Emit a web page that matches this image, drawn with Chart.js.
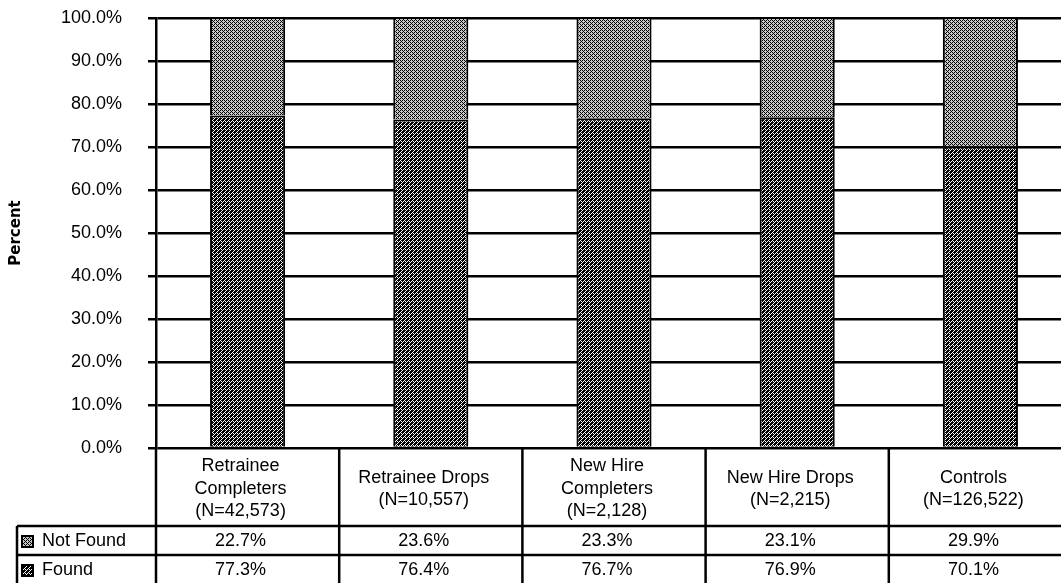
<!DOCTYPE html>
<html>
<head>
<meta charset="utf-8">
<script src="https://cdn.jsdelivr.net/npm/chart.js@4.4.1/dist/chart.umd.min.js"></script>
<style>
  html, body { margin: 0; padding: 0; background: #fff; overflow: hidden; }
  canvas { display: block; }
</style>
</head>
<body>
<canvas id="myChart" width="1080" height="583"></canvas>
<script>
//------------------data---------------------
const categories = [
  ['Retrainee', 'Completers', '(N=42,573)'],
  ['Retrainee Drops', '(N=10,557)'],
  ['New Hire', 'Completers', '(N=2,128)'],
  ['New Hire Drops', '(N=2,215)'],
  ['Controls', '(N=126,522)']
];
const notFoundValues = [22.7, 23.6, 23.3, 23.1, 29.9];
const foundValues = [77.3, 76.4, 76.7, 76.9, 70.1];
const yTicks = [0, 10, 20, 30, 40, 50, 60, 70, 80, 90, 100];
const seriesNames = ['Not Found', 'Found'];

//------------------patterns---------------------
function makePattern(isDark) {
  const tile = document.createElement('canvas');
  tile.width = 4;
  tile.height = 4;
  const tctx = tile.getContext('2d');
  tctx.fillStyle = '#fff';
  tctx.fillRect(0, 0, 4, 4);
  tctx.fillStyle = '#000';
  for (let px = 0; px < 4; px++) {
    for (let py = 0; py < 4; py++) {
      let on;
      const s = (px + py) % 4;
      const d = (px - py + 4) % 4;
      if (isDark) {
        //dark stipple with light "/" specks
        on = !(s === 0 || (px === 1 && py === 1));
      } else {
        //mid grey "\" hatch
        on = d === 0 || (d === 2 && px % 2 === 0);
      }
      if (on) tctx.fillRect(px, py, 1, 1);
    }
  }
  if (!isDark) {
    //soft grey fill between the hatch lines
    const img = tctx.getImageData(0, 0, 4, 4);
    for (let k = 0; k < img.data.length; k += 4) {
      if (img.data[k] === 255) {
        img.data[k] = img.data[k + 1] = img.data[k + 2] = 200;
      }
    }
    tctx.putImageData(img, 0, 0);
  }
  return tctx.createPattern(tile, 'repeat');
}

const patternFound = makePattern(true);
const patternNotFound = makePattern(false);

//------------------table under the plot---------------------
const fontTable = '18px "Liberation Sans", Arial, sans-serif';
const headerHeight = 78;
const rowHeight = 29;
const legendLeft = 17;
const textShift = -7;

const tablePlugin = {
  id: 'dataTable',
  afterDraw(chart) {
    const ctx = chart.ctx;
    const area = chart.chartArea;
    const x = chart.scales.x;
    const half = (x.getPixelForValue(1) - x.getPixelForValue(0)) / 2;
    const top = area.bottom;
    const rowTop = top + headerHeight;
    const bottom = chart.height + 2;
    const right = chart.width;

    ctx.save();
    ctx.strokeStyle = '#000';
    ctx.lineWidth = 2.5;

    //vertical lines
    ctx.beginPath();
    ctx.moveTo(area.left, top);
    ctx.lineTo(area.left, bottom);
    for (let i = 0; i < categories.length; i++) {
      const xr = x.getPixelForValue(i) + half;
      ctx.moveTo(xr, top);
      ctx.lineTo(xr, bottom);
    }
    ctx.moveTo(legendLeft, rowTop);
    ctx.lineTo(legendLeft, bottom);
    //horizontal lines
    ctx.moveTo(legendLeft, rowTop);
    ctx.lineTo(right, rowTop);
    ctx.moveTo(legendLeft, rowTop + rowHeight);
    ctx.lineTo(right, rowTop + rowHeight);
    ctx.stroke();

    ctx.fillStyle = '#000';
    ctx.font = fontTable;
    ctx.textAlign = 'center';
    ctx.textBaseline = 'middle';

    //category header
    const lineH = 22.5;
    const headerMid = top + headerHeight / 2 + 2;
    categories.forEach((lines, i) => {
      const cx = x.getPixelForValue(i) + textShift;
      const y0 = headerMid - (lines.length - 1) * lineH / 2;
      lines.forEach((line, k) => {
        ctx.fillText(line, cx, y0 + k * lineH);
      });
    });

    //value rows
    const rows = [
      { name: seriesNames[0], values: notFoundValues, pattern: patternNotFound },
      { name: seriesNames[1], values: foundValues, pattern: patternFound }
    ];
    rows.forEach((row, r) => {
      const midY = rowTop + r * rowHeight + rowHeight / 2 + 1;
      row.values.forEach((v, i) => {
        ctx.textAlign = 'center';
        ctx.fillText(v.toFixed(1) + '%', x.getPixelForValue(i) + textShift, midY);
      });
      //legend key
      ctx.fillStyle = row.pattern;
      ctx.fillRect(22, midY - 5.5, 11, 11);
      ctx.lineWidth = 2;
      ctx.strokeRect(22, midY - 5.5, 11, 11);
      ctx.fillStyle = '#000';
      ctx.textAlign = 'left';
      ctx.fillText(row.name, 42, midY);
    });
    ctx.restore();
  }
};

//------------------chart---------------------
function drawChart() {
  const chartElement = document.getElementById('myChart').getContext('2d');

  new Chart(chartElement, {
    type: 'bar',
    data: {
      labels: categories,
      datasets: [{
        label: seriesNames[1],
        data: foundValues,
        backgroundColor: patternFound,
        borderColor: '#000',
        borderWidth: 2,
        borderSkipped: 'start'
      }, {
        label: seriesNames[0],
        data: notFoundValues,
        backgroundColor: patternNotFound,
        borderColor: '#000',
        borderWidth: { top: 1, left: 2, right: 2, bottom: 0 },
        borderSkipped: 'bottom'
      }]
    },
    options: {
      responsive: false,
      animation: false,
      layout: { padding: { top: 18, right: 8, left: 0, bottom: 0 } },
      plugins: {
        legend: { display: false },
        tooltip: { enabled: false }
      },
      datasets: {
        bar: { categoryPercentage: 1, barPercentage: 0.41 }
      },
      scales: {
        x: {
          stacked: true,
          grid: { display: false },
          border: { display: false },
          ticks: { display: false },
          afterFit(scale) {
            scale.height = 135;
            scale.paddingTop = 0;
            scale.paddingBottom = 0;
          }
        },
        y: {
          stacked: true,
          min: 0,
          max: 100,
          afterBuildTicks(scale) {
            scale.ticks = yTicks.map(v => ({ value: v }));
          },
          afterFit(scale) {
            scale.width = 156;
            scale.paddingTop = 0;
            scale.paddingBottom = 0;
          },
          grid: {
            color: '#000',
            lineWidth: 2.5,
            tickLength: 8,
            tickColor: '#000'
          },
          border: { display: true, color: '#000', width: 2.5 },
          ticks: {
            padding: 26,
            color: '#000',
            font: { family: '"Liberation Sans", Arial, sans-serif', size: 18 },
            callback: v => v.toFixed(1) + '%'
          },
          title: {
            display: true,
            text: 'Percent',
            color: '#000',
            padding: { top: 7, bottom: 0 },
            font: { family: '"DejaVu Sans", Verdana, sans-serif', size: 15, weight: 'bold' }
          }
        }
      }
    },
    plugins: [tablePlugin]
  });
}

drawChart();
</script>
</body>
</html>
